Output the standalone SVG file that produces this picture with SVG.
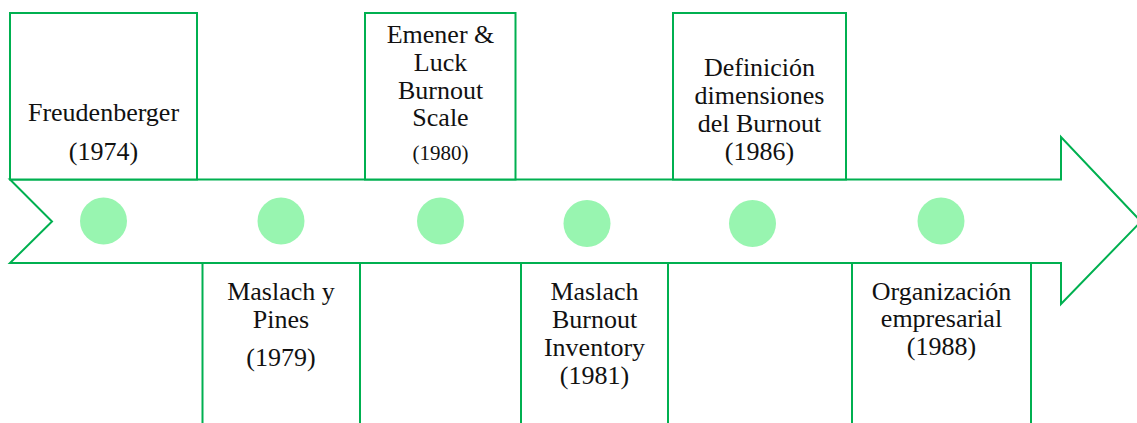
<svg xmlns="http://www.w3.org/2000/svg" width="1137" height="423" viewBox="0 0 1137 423">
  <style>
    .frame { fill: #ffffff; stroke: #00b050; stroke-width: 2; }
    .dot { fill: #98f5b0; }
    .lbl { font-family: "Liberation Serif", "Times New Roman", serif; font-size: 26px; fill: #111111; text-anchor: middle; }
    .sm { font-size: 21px; }
  </style>
  <rect width="1137" height="423" fill="#ffffff"/>

  <!-- timeline arrow with notched tail -->
  <g id="timeline">
    <polygon class="frame" points="10,179.5 1061,179.5 1061,137 1141,221.5 1061,304 1061,263 10,263 52,221.5"/>
  </g>

  <!-- connectors: none besides the timeline itself -->
  <g id="connectors"></g>

  <!-- events above the timeline -->
  <g id="freudenberger">
    <rect class="frame" x="10" y="13" width="187" height="166.5"/>
    <text class="lbl" x="103.5" y="121">Freudenberger</text>
    <text class="lbl" x="103.5" y="159.5">(1974)</text>
    <circle class="dot" cx="103.5" cy="221" r="23.5"/>
  </g>

  <g id="emener-luck">
    <rect class="frame" x="365" y="13" width="150.5" height="166.5"/>
    <text class="lbl" x="440.5" y="43">Emener &amp;</text>
    <text class="lbl" x="440.5" y="71">Luck</text>
    <text class="lbl" x="440.5" y="98.5">Burnout</text>
    <text class="lbl" x="440.5" y="126">Scale</text>
    <text class="lbl sm" x="440.5" y="159.5">(1980)</text>
    <circle class="dot" cx="440.5" cy="221" r="23.5"/>
  </g>

  <g id="definicion">
    <rect class="frame" x="673" y="13" width="173" height="166.5"/>
    <text class="lbl" x="759.5" y="76">Definición</text>
    <text class="lbl" x="759.5" y="104">dimensiones</text>
    <text class="lbl" x="759.5" y="131.5">del Burnout</text>
    <text class="lbl" x="759.5" y="159.5">(1986)</text>
    <circle class="dot" cx="752.5" cy="223.5" r="23.5"/>
  </g>

  <!-- events below the timeline -->
  <g id="maslach-pines">
    <rect class="frame" x="202.5" y="263" width="157.5" height="180"/>
    <text class="lbl" x="281" y="300">Maslach y</text>
    <text class="lbl" x="281" y="327.5">Pines</text>
    <text class="lbl" x="281" y="366">(1979)</text>
    <circle class="dot" cx="281" cy="221" r="23.5"/>
  </g>

  <g id="mbi">
    <rect class="frame" x="521" y="263" width="147" height="180"/>
    <text class="lbl" x="594.5" y="300">Maslach</text>
    <text class="lbl" x="594.5" y="327.5">Burnout</text>
    <text class="lbl" x="594.5" y="355.5">Inventory</text>
    <text class="lbl" x="594.5" y="383.5">(1981)</text>
    <circle class="dot" cx="587" cy="223.5" r="23.5"/>
  </g>

  <g id="organizacion">
    <rect class="frame" x="852" y="263" width="179" height="180"/>
    <text class="lbl" x="941.5" y="299.5">Organización</text>
    <text class="lbl" x="941.5" y="326.5">empresarial</text>
    <text class="lbl" x="941.5" y="355">(1988)</text>
    <circle class="dot" cx="941" cy="221" r="23.5"/>
  </g>
</svg>
